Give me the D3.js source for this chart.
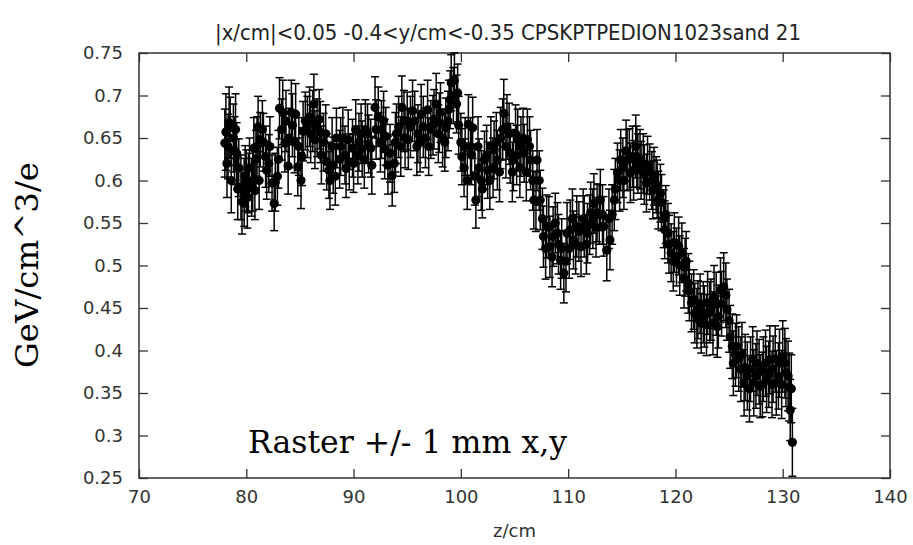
<!DOCTYPE html>
<html><head><meta charset="utf-8">
<script src="https://cdn.jsdelivr.net/npm/d3@7"></script>
<style>body{margin:0;background:#fff}</style>
</head><body>
<svg id="c" width="913" height="545"></svg>
<script>
const titleText = "|x/cm|<0.05 -0.4<y/cm<-0.35 CPSKPTPEDION1023sand 21";
const xLabel = "z/cm";
const yLabel = "GeV/cm^3/e";
const note = "Raster +/- 1 mm x,y";
const xTicks = [70, 80, 90, 100, 110, 120, 130, 140];
const yTicks = [0.25, 0.3, 0.35, 0.4, 0.45, 0.5, 0.55, 0.6, 0.65, 0.7, 0.75];

const zVals = [78.0,78.1,78.3,78.5,78.8,79.1,79.3,79.5,79.8,80.0,80.2,80.5,80.7,80.9,81.1,81.3,81.5,81.8,82.1,82.4,82.6,82.9,83.1,83.4,83.6,83.9,84.2,84.5,84.8,85.1,85.3,85.5,85.7,86.0,86.2,86.3,86.6,86.9,87.2,87.5,87.8,88.1,88.4,88.7,89.0,89.3,89.6,89.9,90.2,90.5,90.8,91.1,91.4,91.7,92.0,92.3,92.6,92.9,93.2,93.6,93.9,94.2,94.5,94.8,95.0,95.3,95.7,96.0,96.2,96.5,96.9,97.2,97.5,97.7,98.0,98.3,98.6,98.9,99.1,99.4,99.7,99.8,100.1,100.4,100.7,100.9,101.1,101.4,101.7,101.9,102.2,102.5,102.8,103.1,103.4,103.7,104.0,104.3,104.6,104.9,105.1,105.3,105.6,105.9,106.2,106.5,106.8,107.1,107.4,107.7,108.0,108.3,108.6,109.0,109.3,109.6,109.9,110.2,110.5,110.8,111.2,111.5,111.8,112.1,112.4,112.7,113.0,113.3,113.6,113.9,114.3,114.6,114.9,115.2,115.5,115.8,116.0,116.3,116.5,116.8,117.1,117.3,117.6,117.9,118.2,118.4,118.7,119.0,119.3,119.6,119.9,120.3,120.6,120.9,121.2,121.5,121.8,122.1,122.4,122.7,123.0,123.3,123.6,123.9,124.2,124.5,124.8,125.1,125.4,125.7,126.1,126.4,126.7,127.0,127.3,127.6,127.9,128.2,128.5,128.8,129.1,129.4,129.7,130.0,130.3,130.6,130.7,130.9,
78.2,78.4,78.6,78.9,79.0,79.2,79.6,79.9,80.1,80.3,80.6,80.8,81.0,81.2,81.6,81.9,82.2,82.7,83.0,83.3,83.7,84.0,84.3,84.6,84.9,85.2,85.9,86.4,86.8,87.0,87.4,87.7,88.0,88.3,88.8,89.2,89.5,90.0,90.4,90.7,91.0,91.3,91.6,92.1,92.5,92.8,93.0,93.4,93.8,94.0,94.4,94.7,95.1,95.5,95.9,96.3,96.7,97.0,97.4,97.9,98.1,98.5,98.8,99.0,99.3,99.6,100.0,100.3,100.6,101.0,101.3,101.6,102.0,102.4,102.7,103.0,103.3,103.6,103.9,104.2,104.5,104.8,105.2,105.5,105.8,106.1,106.4,106.7,107.0,107.3,107.6,107.9,108.2,108.5,108.8,109.1,109.4,109.8,110.1,110.4,110.7,111.0,111.4,111.7,112.0,112.3,112.6,112.9,113.2,113.8,114.1,114.4,114.8,115.1,115.4,115.7,116.1,116.4,116.7,117.0,117.4,117.8,118.0,118.3,118.6,118.9,119.1,119.4,119.8,120.1,120.4,120.8,121.0,121.3,121.7,122.0,122.3,122.6,122.9,123.2,123.5,123.8,124.0,124.3,124.7,125.0,125.3,125.6,125.9,126.2,126.5,126.9,127.2,127.5,127.8,128.1,128.4,128.7,129.0,129.3,129.6,129.9,130.2,130.5,130.8];
const yVals = [.644,.657,.640,.662,.650,.632,.615,.592,.586,.600,.597,.592,.638,.625,.663,.648,.660,.628,.620,.597,.573,.605,.685,.680,.644,.617,.680,.645,.616,.600,.658,.670,.663,.655,.670,.690,.662,.657,.645,.622,.600,.618,.650,.625,.650,.614,.622,.638,.660,.645,.637,.660,.643,.618,.686,.675,.660,.637,.618,.606,.645,.663,.686,.650,.670,.663,.670,.655,.645,.663,.683,.660,.672,.690,.668,.650,.662,.684,.715,.718,.703,.665,.628,.640,.666,.640,.662,.577,.615,.600,.624,.612,.640,.636,.624,.650,.679,.663,.632,.624,.655,.648,.640,.632,.648,.624,.577,.624,.577,.534,.546,.522,.534,.538,.506,.491,.538,.542,.530,.546,.522,.546,.538,.562,.573,.562,.577,.546,.518,.530,.577,.609,.624,.600,.624,.609,.628,.640,.620,.612,.607,.597,.610,.589,.595,.577,.574,.542,.538,.515,.527,.523,.515,.498,.479,.456,.444,.448,.432,.440,.456,.448,.463,.428,.471,.475,.448,.416,.385,.405,.378,.362,.370,.378,.362,.385,.358,.378,.366,.389,.378,.362,.385,.393,.374,.357,.330,.292,
.620,.668,.600,.635,.660,.590,.575,.605,.580,.615,.600,.588,.640,.600,.645,.612,.640,.598,.625,.660,.670,.650,.665,.678,.640,.628,.675,.648,.672,.630,.655,.612,.640,.605,.640,.630,.648,.620,.630,.655,.625,.655,.638,.660,.645,.670,.652,.632,.620,.655,.640,.670,.648,.682,.640,.678,.650,.640,.665,.655,.680,.645,.670,.695,.700,.690,.645,.615,.600,.630,.605,.640,.590,.630,.600,.615,.645,.610,.660,.640,.655,.610,.630,.615,.650,.610,.640,.600,.575,.600,.555,.520,.545,.510,.550,.525,.520,.505,.520,.555,.525,.540,.555,.525,.548,.555,.545,.560,.560,.555,.560,.590,.600,.615,.635,.625,.612,.628,.625,.620,.618,.600,.605,.590,.585,.555,.560,.525,.505,.510,.500,.485,.505,.470,.460,.438,.455,.445,.430,.445,.432,.455,.440,.455,.465,.435,.405,.395,.390,.395,.380,.355,.390,.370,.375,.360,.385,.372,.360,.390,.370,.360,.385,.370,.355];
const errVals = [.040,.045,.038,.036,.040,.036,.034,.038,.040,.036,.035,.034,.036,.034,.036,.032,.034,.036,.034,.033,.032,.034,.036,.038,.034,.033,.038,.036,.034,.033,.035,.034,.036,.034,.036,.035,.034,.036,.034,.033,.034,.033,.035,.034,.036,.034,.033,.034,.035,.034,.033,.035,.034,.034,.036,.035,.034,.035,.034,.036,.035,.036,.037,.035,.034,.036,.035,.034,.035,.036,.035,.034,.035,.036,.035,.034,.035,.034,.033,.032,.034,.034,.033,.034,.035,.034,.036,.033,.034,.035,.034,.033,.035,.034,.035,.036,.040,.038,.035,.036,.034,.036,.035,.034,.036,.035,.034,.036,.035,.036,.037,.036,.035,.036,.034,.035,.036,.035,.034,.036,.035,.036,.035,.036,.035,.034,.036,.035,.036,.035,.036,.035,.036,.034,.036,.035,.036,.037,.035,.034,.035,.034,.033,.034,.033,.034,.033,.034,.035,.034,.035,.034,.035,.034,.035,.034,.035,.034,.035,.036,.037,.036,.037,.036,.038,.040,.036,.037,.038,.037,.038,.039,.040,.038,.039,.038,.037,.038,.039,.040,.039,.038,.040,.042,.040,.040,.036,.040,
.040,.042,.038,.040,.042,.036,.038,.036,.036,.035,.036,.034,.035,.034,.034,.034,.035,.034,.034,.036,.036,.035,.037,.036,.034,.034,.035,.034,.035,.034,.034,.033,.034,.034,.034,.034,.035,.034,.034,.035,.034,.035,.034,.035,.035,.035,.034,.034,.034,.035,.035,.036,.035,.036,.034,.035,.035,.034,.035,.034,.035,.034,.035,.034,.033,.034,.034,.034,.034,.035,.034,.035,.034,.035,.034,.035,.035,.035,.036,.037,.036,.035,.035,.035,.035,.034,.035,.035,.035,.035,.036,.036,.036,.035,.035,.035,.035,.036,.035,.035,.035,.035,.035,.035,.035,.035,.035,.035,.035,.035,.035,.036,.036,.035,.036,.036,.035,.036,.035,.035,.034,.034,.034,.034,.034,.034,.034,.034,.035,.034,.035,.035,.035,.035,.035,.035,.035,.036,.036,.036,.037,.037,.037,.038,.038,.037,.038,.037,.038,.038,.039,.039,.038,.038,.038,.038,.039,.039,.039,.039,.039,.040,.041,.041,.040];

const svg = d3.select("#c");
const L = 139, R = 890, T = 53, B = 478;
const x = d3.scaleLinear().domain([70, 140]).range([L, R]);
const y = d3.scaleLinear().domain([0.25, 0.75]).range([B, T]);
const axisColor = "#333";
const tickFont = "'DejaVu Sans', sans-serif";

// axes
const gB = svg.append("g").attr("transform", `translate(0,${B})`)
  .call(d3.axisBottom(x).tickValues(xTicks).tickSize(-9).tickPadding(14).tickFormat(d3.format("d")));
const gT = svg.append("g").attr("transform", `translate(0,${T})`)
  .call(d3.axisTop(x).tickValues(xTicks).tickSize(-9).tickFormat(""));
const gL = svg.append("g").attr("transform", `translate(${L},0)`)
  .call(d3.axisLeft(y).tickValues(yTicks).tickSize(-9).tickPadding(16).tickFormat(d => String(+d.toFixed(2))));
const gR = svg.append("g").attr("transform", `translate(${R},0)`)
  .call(d3.axisRight(y).tickValues(yTicks).tickSize(-9).tickFormat(""));
[gB, gT, gL, gR].forEach(g => {
  g.select(".domain").remove();
  g.selectAll(".tick line").attr("stroke", axisColor).attr("stroke-width", 1.3);
  g.selectAll(".tick text").attr("fill", "#333").style("font-family", tickFont).style("font-size", "18px");
});
gB.selectAll(".tick text").attr("dy", "0.6em");

svg.append("rect").attr("x", L).attr("y", T).attr("width", R - L).attr("height", B - T)
  .attr("fill", "none").attr("stroke", axisColor).attr("stroke-width", 1.5);

// data
const data = zVals.map((z, i) => ({z, v: yVals[i], e: errVals[i]}));
const eb = svg.append("g").attr("stroke", "#000").attr("stroke-width", 1.5);
data.forEach(d => {
  const cx = x(d.z), y1 = y(d.v + d.e), y0 = y(d.v - d.e);
  eb.append("line").attr("x1", cx).attr("x2", cx).attr("y1", y1).attr("y2", y0);
  eb.append("line").attr("x1", cx - 4).attr("x2", cx + 4).attr("y1", y1).attr("y2", y1);
  eb.append("line").attr("x1", cx - 4).attr("x2", cx + 4).attr("y1", y0).attr("y2", y0);
});
svg.append("g").selectAll("circle").data(data).join("circle")
  .attr("cx", d => x(d.z)).attr("cy", d => y(d.v)).attr("r", 4.6).attr("fill", "#000");

// texts
svg.append("text").attr("x", 508).attr("y", 40).attr("text-anchor", "middle")
  .style("font-family", "'DejaVu Sans Condensed', 'DejaVu Sans', sans-serif").style("font-stretch", "condensed")
  .style("font-size", "21px").attr("fill", "#222")
  .attr("textLength", 586).attr("lengthAdjust", "spacingAndGlyphs").text(titleText);
svg.append("text").attr("x", (L + R) / 2).attr("y", 537).attr("text-anchor", "middle")
  .style("font-family", tickFont).style("font-size", "18px").attr("fill", "#333").text(xLabel);
svg.append("text").attr("transform", `translate(38,265) rotate(-90)`).attr("text-anchor", "middle")
  .style("font-family", "'DejaVu Serif', serif").style("font-size", "32px").attr("fill", "#000")
  .attr("textLength", 206).attr("lengthAdjust", "spacingAndGlyphs").text(yLabel);
svg.append("text").attr("x", 248).attr("y", 453)
  .style("font-family", "'DejaVu Serif', serif").style("font-size", "31px").attr("fill", "#000")
  .attr("textLength", 319).attr("lengthAdjust", "spacingAndGlyphs").text(note);
</script>
</body></html>
